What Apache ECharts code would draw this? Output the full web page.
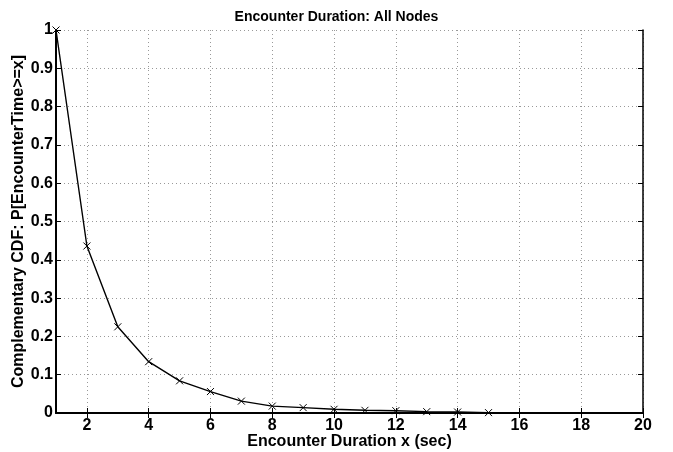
<!DOCTYPE html>
<html>
<head>
<meta charset="utf-8">
<script src="https://cdn.jsdelivr.net/npm/echarts@6/dist/echarts.min.js"></script>
<style>
  html, body {margin: 0; padding: 0; background: #fff;}
  #chart {width: 673px; height: 452px;}
</style>
</head>
<body>
<div id="chart"></div>
<script>
// encounter duration in seconds
const durations = [1, 2, 3, 4, 5, 6, 7, 8, 9, 10, 11, 12, 13, 14, 15];
// complementary CDF
const ccdf = [1.0, 0.436, 0.225, 0.134, 0.084, 0.056, 0.031, 0.018, 0.014, 0.0097, 0.007, 0.006, 0.0035, 0.0025, 0.001];
const xTicks = [2, 4, 6, 8, 10, 12, 14, 16, 18, 20];

const font = "Liberation Sans";

const chart = echarts.init(document.getElementById("chart"));

const gridLine = {show: true, lineStyle: {color: "#999", type: [1, 3], width: 1}};

const sideAxis = {
  axisLine: {show: true, lineStyle: {color: "#000", width: 1.5}},
  axisTick: {show: true, inside: true, length: 5, lineStyle: {color: "#000"}},
  axisLabel: {show: false},
  splitLine: {show: false},
};

const option = {
  animation: false,
  backgroundColor: "#fff",
  title: {
    text: "Encounter Duration: All Nodes",
    left: "center",
    top: 5,
    textStyle: {fontFamily: font, fontWeight: "bold", fontSize: 14, color: "#000"},
  },
  grid: {left: 56, right: 30, top: 30, bottom: 39, outerBoundsMode: "none", containLabel: false},
  xAxis: [
    {
      type: "value",
      min: 1,
      max: 20,
      name: "Encounter Duration x (sec)",
      nameLocation: "middle",
      nameGap: 21,
      nameMoveOverlap: false,
      nameTextStyle: {fontFamily: font, fontWeight: "bold", fontSize: 16, color: "#000"},
      axisLine: {show: true, lineStyle: {color: "#000", width: 2}},
      axisTick: {show: true, inside: true, length: 5, customValues: xTicks, lineStyle: {color: "#000"}},
      axisLabel: {customValues: xTicks, margin: 5, fontFamily: font, fontWeight: "bold", fontSize: 16, color: "#000"},
      splitLine: gridLine,
    },
    Object.assign({type: "value", position: "top", min: 1, max: 20}, sideAxis,
      {axisTick: {show: true, inside: true, length: 5, customValues: xTicks, lineStyle: {color: "#000"}}}),
  ],
  yAxis: [
    {
      type: "value",
      min: 0,
      max: 1,
      interval: 0.1,
      name: "Complementary CDF: P[EncounterTime>=x]",
      nameLocation: "middle",
      nameRotate: 90,
      nameGap: 29,
      nameMoveOverlap: false,
      nameTextStyle: {fontFamily: font, fontWeight: "bold", fontSize: 16, color: "#000"},
      axisLine: {show: true, lineStyle: {color: "#000", width: 2}},
      axisTick: {show: true, inside: true, length: 5, lineStyle: {color: "#000"}},
      axisLabel: {margin: 3, fontFamily: font, fontWeight: "bold", fontSize: 16, color: "#000"},
      splitLine: gridLine,
    },
    Object.assign({type: "value", position: "right", min: 0, max: 1, interval: 0.1}, sideAxis),
  ],
  series: [
    {
      type: "line",
      data: durations.map((d, i) => [d, ccdf[i]]),
      symbol: "path://M0,0L10,10M0,10L10,0",
      symbolSize: 7,
      showAllSymbol: true,
      itemStyle: {color: "none", borderColor: "#000", borderWidth: 1},
      lineStyle: {color: "#000", width: 1.4},
    },
  ],
};

chart.setOption(option);
</script>
</body>
</html>
